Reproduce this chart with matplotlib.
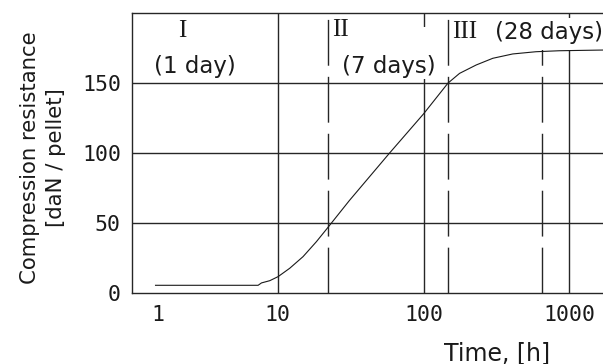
import matplotlib
matplotlib.use("Agg")
import matplotlib.pyplot as plt
from matplotlib.ticker import FixedLocator, FixedFormatter, NullLocator
from matplotlib.transforms import ScaledTranslation
from matplotlib.patches import Rectangle

plt.rcParams['lines.scale_dashes'] = False

# ---- data ----
time_h = [1.45, 7.33, 7.73, 8.81, 10.05, 12.08, 14.9, 18.4, 21.8, 31, 58.5, 100, 147, 176.6, 229.6, 298.6, 409, 591, 855, 1700]
resistance = [5.3, 5.3, 7.0, 8.6, 11.5, 17.5, 25.8, 36.5, 46, 66, 100, 128, 150, 157, 163, 167.8, 170.9, 172.5, 173.2, 173.7]

x_ticks = [1, 10, 100, 1000]
x_tick_labels = ["1", "10", "100", "1000"]
y_ticks = [0, 50, 100, 150]
y_tick_labels = ["0", "50", "100", "150"]
solid_vlines = [10, 100, 1000]
dashed_vlines = [22, 147, 650]
hlines = [50, 100, 150]

x_limits = (1, 1702)
y_limits = (0, 200)

W, H = 603, 364
fig = plt.figure(figsize=(W / 100, H / 100), dpi=100)
ax_left, ax_right, ax_top, ax_bottom = 132, 603, 13.3, 292.7
ax = fig.add_axes([ax_left / W, 1 - ax_bottom / H, (ax_right - ax_left) / W, (ax_bottom - ax_top) / H])

line_col = '#262626'
ax.set_xscale('log')
ax.set_xlim(*x_limits)
ax.set_ylim(*y_limits)

for v in hlines:
    ax.axhline(v, color=line_col, lw=1.0, zorder=1)
for v in solid_vlines:
    ax.axvline(v, color=line_col, lw=1.0, zorder=1)
for v in dashed_vlines:
    ax.axvline(v, color=line_col, lw=1.0, zorder=1, dashes=(33, 8))

ax.plot(time_h, resistance, color='#1a1a1a', lw=0.8, zorder=4)

for s in ['left', 'bottom', 'top']:
    ax.spines[s].set_linewidth(1.0)
    ax.spines[s].set_color(line_col)
ax.spines['right'].set_visible(False)

ax.xaxis.set_major_locator(FixedLocator(x_ticks))
ax.xaxis.set_major_formatter(FixedFormatter(x_tick_labels))
ax.xaxis.set_minor_locator(NullLocator())
ax.yaxis.set_major_locator(FixedLocator(y_ticks))
ax.yaxis.set_major_formatter(FixedFormatter(y_tick_labels))
ax.tick_params(length=0, labelsize=15.5, colors='#1a1a1a')
ax.tick_params(axis='x', pad=9)
ax.tick_params(axis='y', pad=8)
for lab in ax.get_xticklabels() + ax.get_yticklabels():
    lab.set_family('DejaVu Sans Mono')

ticks = ax.xaxis.get_major_ticks()
ticks[0].label1.set_transform(ticks[0].label1.get_transform() + ScaledTranslation(26 / 100, 0, fig.dpi_scale_trans))

def fx(px):
    return (px - ax_left) / (ax_right - ax_left)

def fy(py):
    return (ax_bottom - py) / (ax_bottom - ax_top)

# white masks behind the period labels (cover grid lines like the original)
def mask(x0, y0, x1, y1):
    ax.add_patch(Rectangle((fx(x0), fy(y1)), fx(x1) - fx(x0), fy(y0) - fy(y1), transform=ax.transAxes,
                           facecolor='white', edgecolor='none', zorder=2, clip_on=False))

mask(338, 27, 441, 79)
mask(490, 18, 604, 49.5)

sans = 'DejaVu Sans'
serif = 'Liberation Serif'
tc = '#1a1a1a'
ax.text(fx(182), fy(31), "I", transform=ax.transAxes, ha='center', va='center', family=serif, fontsize=18, color=tc, zorder=3)
ax.text(fx(195), fy(67), "(1 day)", transform=ax.transAxes, ha='center', va='center', family=sans, fontsize=16.5, color=tc, zorder=3)
ax.text(fx(332), fy(30), "II", transform=ax.transAxes, ha='left', va='center', family=serif, fontsize=18, color=tc, zorder=3)
ax.text(fx(389), fy(66), "(7 days)", transform=ax.transAxes, ha='center', va='center', family=sans, fontsize=16.5, color=tc, zorder=3)
ax.text(fx(452), fy(32), "III", transform=ax.transAxes, ha='left', va='center', family=serif, fontsize=18, color=tc, zorder=3)
ax.text(fx(495), fy(32), "(28 days)", transform=ax.transAxes, ha='left', va='center', family=sans, fontsize=16.5, color=tc, zorder=3,
        clip_on=False)

fig.text(43 / W, 1 - 158 / H, "Compression resistance\n[daN / pellet]", rotation=90, ha='center', va='center',
         multialignment='center', family=sans, fontsize=15.3, color=tc, linespacing=1.4)
fig.text(497 / W, 1 - 353 / H, "Time, [h]", ha='center', va='center', family=sans, fontsize=17, color=tc)

fig.savefig("out.png", dpi=100)
